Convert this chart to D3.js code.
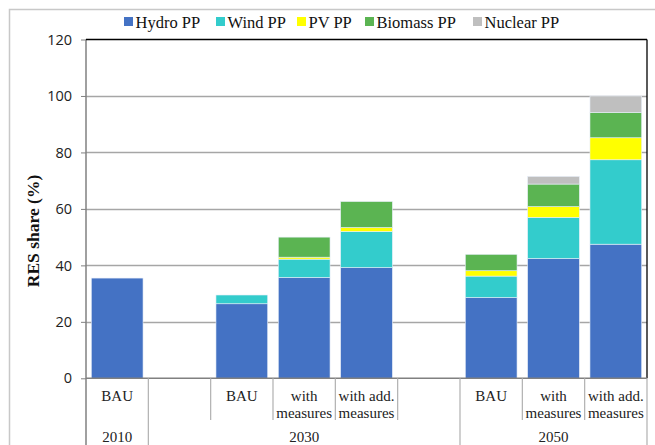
<!DOCTYPE html>
<html><head><meta charset="utf-8">
<script src="https://cdn.jsdelivr.net/npm/d3@7"></script>
<style>body{margin:0;background:#fff}svg{display:block}</style>
</head><body>
<svg id="c" width="655" height="445"></svg>
<script>
const slots = ["BAU", "", "BAU", "with|measures", "with add.|measures", "", "BAU", "with|measures", "with add.|measures"];
const slotYear = ["2010", "2030", "2030", "2030", "2030", "2030", "2050", "2050", "2050"];
const years = ["2010", "2030", "2050"];
const seriesNames = ["Hydro PP", "Wind PP", "PV PP", "Biomass PP", "Nuclear PP"];
const hydro   = [35.5, 0, 26.4, 35.7, 39.2, 0, 28.6, 42.4, 47.5];
const wind    = [0,    0,  3.1,  6.5, 12.8, 0,  7.6, 14.6, 29.9];
const pv      = [0,    0,  0,    0.7,  1.4, 0,  1.9,  3.8,  7.8];
const biomass = [0,    0,  0,    7.1,  9.2, 0,  5.8,  8.0,  9.0];
const nuclear = [0,    0,  0,    0,    0,   0,  0,    2.7,  5.8];
const yTicks = [0, 20, 40, 60, 80, 100, 120];
const colors = ["#4472C4", "#33CCCC", "#FFFF00", "#5BB452", "#BFBFBF"];

const seriesVals = [hydro, wind, pv, biomass, nuclear];
const table = slots.map((s, i) => {
  const o = {idx: i};
  seriesNames.forEach((n, k) => o[n] = seriesVals[k][i]);
  return o;
});

const svg = d3.select("#c");
const L = 86, R = 647, T = 39.5, B = 378.3;
const x = d3.scaleBand().domain(d3.range(slots.length)).range([L, R]).paddingInner(0.17).paddingOuter(0.085);
const y = d3.scaleLinear().domain([0, 120]).range([B, T]);
const step = (R - L) / slots.length;

// outer border
svg.append("path").attr("d", `M9.5,445 V9.5 H655`).attr("fill", "none").attr("stroke", "#c8c8c8").attr("stroke-width", 1.5);

// gridlines
svg.append("g").selectAll("line").data(yTicks.filter(t => t > 0 && t < 120)).join("line")
  .attr("x1", L).attr("x2", R).attr("y1", d => Math.round(y(d)) + 0.5).attr("y2", d => Math.round(y(d)) + 0.5)
  .attr("stroke", "#a6a6a6").attr("stroke-width", 1.3);

// y axis
const ya = svg.append("g").attr("transform", `translate(${L},0)`)
  .call(d3.axisLeft(y).tickValues(yTicks).tickSize(5).tickPadding(9));
ya.select(".domain").remove();
ya.selectAll(".tick line").attr("stroke", "#808080");
ya.selectAll(".tick text").attr("font-family", "Open Sans, sans-serif").attr("font-size", 14.5).attr("fill", "#222");

// stacked bars
const stack = d3.stack().keys(seriesNames)(table);
svg.append("g").selectAll("g").data(stack).join("g").attr("fill", (d, i) => colors[i])
  .selectAll("rect").data(d => d.filter(p => p[1] - p[0] > 0)).join("rect")
  .attr("x", d => x(d.data.idx)).attr("width", x.bandwidth())
  .attr("y", d => y(d[1])).attr("height", d => y(d[0]) - y(d[1]))
  .attr("stroke", "#e8eef8").attr("stroke-width", 0.6);

// frame lines
svg.append("line").attr("x1", L).attr("x2", L).attr("y1", T).attr("y2", 445).attr("stroke", "#808080").attr("stroke-width", 1.5);
svg.append("line").attr("x1", L).attr("x2", R).attr("y1", T).attr("y2", T).attr("stroke", "#000").attr("stroke-width", 1.3);
svg.append("line").attr("x1", R).attr("x2", R).attr("y1", T).attr("y2", B).attr("stroke", "#000").attr("stroke-width", 1.3);
svg.append("line").attr("x1", L).attr("x2", R).attr("y1", B).attr("y2", B).attr("stroke", "#808080").attr("stroke-width", 1.5);

// category axis boundaries
const bounds = d3.range(1, slots.length + 1);
svg.append("g").selectAll("line").data(bounds).join("line")
  .attr("x1", d => L + d * step).attr("x2", d => L + d * step)
  .attr("y1", B).attr("y2", d => (d === slots.length || slotYear[d] !== slotYear[d - 1]) ? 445 : 420)
  .attr("stroke", "#b0b0b0").attr("stroke-width", 1.2);

// category labels
const cat = svg.append("g").attr("font-family", "Liberation Serif, serif").attr("font-size", 15).attr("fill", "#222").attr("text-anchor", "middle");
slots.forEach((s, i) => {
  const lines = s ? s.split("|") : [];
  lines.forEach((ln, j) => {
    cat.append("text").attr("x", x(i) + x.bandwidth() / 2).attr("y", 401 + j * 16.5).text(ln);
  });
});
years.forEach(yr => {
  const idx = slotYear.map((v, i) => v === yr ? i : -1).filter(i => i >= 0);
  const cx = L + (d3.min(idx) + d3.max(idx) + 1) / 2 * step;
  cat.append("text").attr("x", cx).attr("y", 442).text(yr);
});

// y title
svg.append("text").attr("transform", `translate(39,231) rotate(-90)`).attr("text-anchor", "middle")
  .attr("font-family", "Liberation Serif, serif").attr("font-weight", "bold").attr("font-size", 17.5).attr("fill", "#111")
  .text("RES share (%)");

// legend
const legX = [124, 216, 297, 365, 473];
const lg = svg.append("g").attr("font-family", "Liberation Serif, serif").attr("font-size", 16.5).attr("fill", "#111");
seriesNames.forEach((n, i) => {
  lg.append("rect").attr("x", legX[i]).attr("y", 17).attr("width", 9).attr("height", 9).attr("fill", colors[i]);
  lg.append("text").attr("x", legX[i] + 11.5).attr("y", 27.5).text(n);
});
</script>
</body></html>
